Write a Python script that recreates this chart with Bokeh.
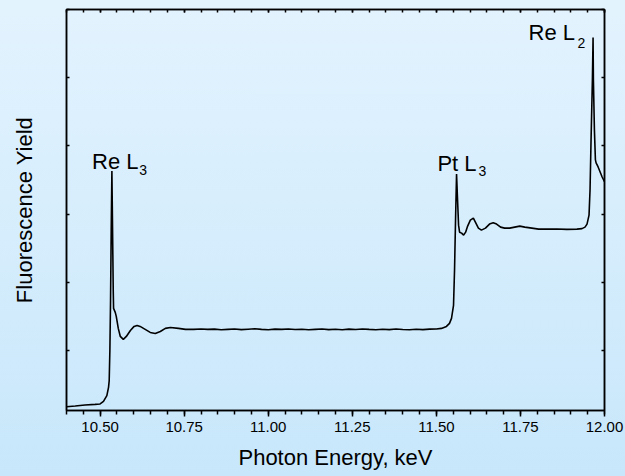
from bokeh.plotting import figure
from bokeh.models import (Range1d, LinearAxis, FixedTicker, SingleIntervalTicker,
                          NumeralTickFormatter, CustomJSTickFormatter, Label,
                          InlineStyleSheet, ColumnDataSource)
from bokeh.embed import file_html
from bokeh.resources import INLINE

# Fluorescence-yield XAS scan across the Re L3, Pt L3 and Re L2 edges
energy_kev = [
    10.400, 10.426, 10.455, 10.485, 10.500, 10.510, 10.520, 10.525, 10.527, 10.529,
    10.531, 10.533, 10.535, 10.537, 10.539, 10.540, 10.545, 10.548, 10.554, 10.560,
    10.569, 10.578, 10.590, 10.601, 10.610, 10.619, 10.634, 10.649, 10.664, 10.679,
    10.694, 10.709, 10.733, 10.754, 10.778,
    10.80, 10.82, 10.84, 10.86, 10.88, 10.90, 10.92, 10.94, 10.96, 10.98,
    11.00, 11.02, 11.04, 11.06, 11.08, 11.10, 11.12, 11.14, 11.16, 11.18,
    11.20, 11.22, 11.24, 11.26, 11.28, 11.30, 11.32, 11.34, 11.36, 11.38,
    11.40, 11.42, 11.44, 11.46, 11.48, 11.50,
    11.515, 11.530, 11.539, 11.545, 11.551, 11.554, 11.557, 11.560, 11.563, 11.566,
    11.569, 11.575, 11.581, 11.587, 11.593, 11.601, 11.610, 11.616, 11.625, 11.634,
    11.646, 11.658, 11.669, 11.679, 11.691, 11.703, 11.718, 11.733, 11.748, 11.763,
    11.784, 11.804, 11.828, 11.858, 11.888, 11.918, 11.933, 11.942, 11.948, 11.954,
    11.957, 11.960, 11.964, 11.966, 11.967, 11.970, 11.973, 11.975, 11.981, 11.987,
    11.993, 12.000,
]

fluorescence = [
    0.176, 0.187, 0.201, 0.210, 0.216, 0.254, 0.338, 0.460, 0.559, 1.000,
    1.735, 2.765, 3.632, 2.765, 1.882, 1.618, 1.559, 1.500, 1.324, 1.206,
    1.162, 1.206, 1.294, 1.353, 1.368, 1.353, 1.309, 1.265, 1.250, 1.279,
    1.324, 1.338, 1.324, 1.309, 1.309,
    1.316, 1.309, 1.313, 1.303, 1.310, 1.316, 1.306, 1.312, 1.318, 1.309,
    1.304, 1.313, 1.309, 1.316, 1.307, 1.312, 1.303, 1.310, 1.315, 1.306,
    1.311, 1.304, 1.313, 1.308, 1.316, 1.309, 1.303, 1.311, 1.306, 1.314,
    1.308, 1.303, 1.311, 1.306, 1.313, 1.316,
    1.324, 1.353, 1.397, 1.471, 1.662, 2.176, 2.912, 3.588, 3.206, 2.838,
    2.735, 2.721, 2.691, 2.735, 2.824, 2.912, 2.941, 2.882, 2.794, 2.765,
    2.794, 2.853, 2.872, 2.853, 2.809, 2.794, 2.794, 2.809, 2.824, 2.809,
    2.794, 2.779, 2.779, 2.782, 2.776, 2.779, 2.787, 2.809, 2.853, 2.985,
    3.353, 4.088, 4.971, 5.588, 4.971, 4.235, 3.794, 3.750, 3.691, 3.618,
    3.544, 3.475,
]

# Edge annotations: element + line, and its subscript
edge_names = ["Re L", "Pt L", "Re L"]
edge_subs = ["3", "3", "2"]

FONT = "Liberation Sans"
Y_TICKS = [0, 1, 2, 3, 4, 5, 6]

p = figure(width=625, height=476,
           x_range=Range1d(10.4, 12.0), y_range=Range1d(0.12, 6.0),
           output_backend="svg", toolbar_location=None,
           min_border_left=66, min_border_right=21,
           min_border_top=9, min_border_bottom=66)

p.background_fill_alpha = 0
p.border_fill_alpha = 0
p.outline_line_color = "black"
p.outline_line_width = 1.5
p.grid.visible = False
p.stylesheets = [InlineStyleSheet(
    css=":host { background: linear-gradient(to bottom, #e3f3fe 0%, #c8e7fb 100%); }")]

src = ColumnDataSource(dict(x=energy_kev, y=fluorescence))
p.line("x", "y", source=src, line_color="black", line_width=1.6)

no_labels = CustomJSTickFormatter(code="return '';")

# bottom axis
xa = p.xaxis[0]
xa.ticker = SingleIntervalTicker(interval=0.25, num_minor_ticks=5)
xa.formatter = NumeralTickFormatter(format="0.00")
xa.axis_label = "Photon Energy, keV"
xa.axis_label_text_font = FONT
xa.axis_label_text_font_size = "22px"
xa.axis_label_text_font_style = "normal"
xa.axis_label_text_color = "black"
xa.axis_label_standoff = 10
xa.major_label_text_font = FONT
xa.major_label_text_font_size = "15px"
xa.major_label_text_color = "black"
xa.major_label_standoff = 5
xa.major_tick_out = 6
xa.major_tick_in = 0
xa.minor_tick_out = 4
xa.minor_tick_in = 0
xa.axis_line_width = 1.5
xa.major_tick_line_width = 1.5
xa.minor_tick_line_width = 1.5

# left axis: ticks only, plus title
ya = p.yaxis[0]
ya.ticker = FixedTicker(ticks=Y_TICKS)
ya.formatter = no_labels
ya.major_label_standoff = 0
ya.axis_label = "Fluorescence Yield"
ya.axis_label_text_font = FONT
ya.axis_label_text_font_size = "22px"
ya.axis_label_text_font_style = "normal"
ya.axis_label_text_color = "black"
ya.axis_label_standoff = 30
ya.major_tick_in = 3
ya.major_tick_out = 0
ya.minor_tick_line_color = None
ya.axis_line_width = 1.5
ya.major_tick_line_width = 1.5

# mirrored ticks on top and right
top = LinearAxis(ticker=SingleIntervalTicker(interval=0.25, num_minor_ticks=5),
                 formatter=no_labels, major_label_standoff=0,
                 major_tick_in=3, major_tick_out=0, minor_tick_in=3, minor_tick_out=0,
                 axis_line_width=1.5, major_tick_line_width=1.5, minor_tick_line_width=1.5)
p.add_layout(top, "above")
right = LinearAxis(ticker=FixedTicker(ticks=Y_TICKS),
                   formatter=no_labels, major_label_standoff=0,
                   major_tick_in=3, major_tick_out=0, minor_tick_line_color=None,
                   axis_line_width=1.5, major_tick_line_width=1.5)
p.add_layout(right, "right")

# edge labels (main text + subscript)
main_pos = [(10.476, 3.765), (11.503, 3.743), (11.774, 5.657)]
sub_pos = [(10.616, 3.647), (11.625, 3.625), (11.920, 5.510)]
for name, sub, (mx, my), (sx, sy) in zip(edge_names, edge_subs, main_pos, sub_pos):
    p.add_layout(Label(x=mx, y=my, text=name, text_font=FONT, text_font_size="22px",
                       text_baseline="alphabetic", text_align="left", text_color="black"))
    p.add_layout(Label(x=sx, y=sy, text=sub, text_font=FONT, text_font_size="14px",
                       text_baseline="alphabetic", text_align="left", text_color="black"))

open("out.html", "w").write(file_html(p, INLINE))
